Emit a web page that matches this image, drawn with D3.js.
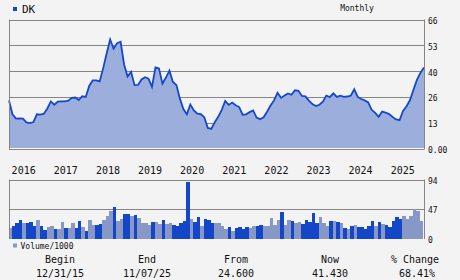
<!DOCTYPE html>
<html>
<head>
<meta charset="utf-8">
<script src="https://cdn.jsdelivr.net/npm/d3@7"></script>
<style>
  body { margin: 0; background: #f3f3f3; }
  svg { display: block; }
  text { font-family: "DejaVu Sans Mono", monospace; fill: #111; }
</style>
</head>
<body>
<div id="chart"></div>
<script>
// Monthly close, Dec 2015 .. Nov 2025
var prices = [24.6, 17.5, 15.3, 15.4, 15.3, 13.4, 13.0, 13.5, 17.5, 17.3,
  17.8, 20.5, 24.1, 22.4, 24.0, 24.1, 24.1, 24.5, 25.9, 26.1,
  24.8, 26.7, 26.4, 32.0, 34.9, 34.9, 34.3, 41.0, 48.6, 55.8,
  51.0, 53.9, 54.6, 43.0, 36.8, 39.2, 32.4, 32.5, 35.3, 36.5,
  35.7, 31.5, 41.5, 41.0, 33.2, 36.3, 39.8, 34.0, 32.5, 25.5,
  20.2, 17.5, 22.5, 19.5, 17.8, 17.6, 16.0, 10.5, 10.0, 13.4,
  16.2, 19.8, 24.3, 22.3, 23.5, 22.1, 21.2, 17.3, 17.5, 18.6,
  19.5, 15.8, 15.0, 16.0, 18.8, 22.0, 24.6, 28.5, 25.9, 27.1,
  28.2, 27.5, 29.8, 29.5, 26.9, 26.7, 24.5, 22.7, 21.7, 22.4,
  24.0, 27.1, 26.3, 28.2, 26.4, 27.0, 26.4, 26.6, 27.0, 30.3,
  26.4, 25.3, 24.6, 23.6, 19.8, 18.2, 16.2, 18.9, 18.4, 17.6,
  16.1, 14.9, 14.5, 19.2, 21.6, 24.8, 30.2, 35.2, 38.8, 41.43];

// volume / 1000 per month, and which bars are drawn dark
var volumes = [17.8, 21, 25.2, 29.9, 25.2, 25.2, 26.8, 21, 29.9, 20.5,
  14.2, 18.9, 20.5, 15.7, 15.7, 26.8, 17.3, 17.3, 25.2, 17.3,
  28.3, 18.9, 12.6, 29.9, 22, 22, 23.6, 29.9, 36.2, 44.1,
  50.4, 28.3, 31.5, 39.4, 39.4, 36.2, 37.8, 33, 25.2, 25.2,
  22, 26.8, 26.8, 23.6, 29.9, 23.6, 25.2, 22, 20.5, 25.2,
  28.3, 90.3, 31.5, 26.8, 34.6, 20.5, 31.5, 29.9, 25.2, 25.2,
  25.2, 20.5, 15.7, 18.9, 12.6, 17.3, 18.9, 15.7, 18.9, 17.3,
  20.5, 20.5, 22, 20.5, 20.5, 33, 22, 29.9, 42.5, 22,
  29.9, 28.3, 25.2, 26.8, 23.6, 29.9, 26.8, 40.9, 25.2, 34.6,
  25.2, 20.5, 28.3, 28.3, 26.8, 25.2, 17.3, 15.7, 20.5, 22,
  18.9, 18.9, 15.7, 20.5, 28.3, 20.5, 26.8, 23.6, 22, 18.9,
  28.3, 34.6, 31.5, 36.2, 31.5, 36.2, 47.2, 44.1, 28.3];
var volDark = [0,1,1,1,0,1,1,1,0,1, 1,0,0,1,0,0,1,0,0,1,
  1,0,1,0,0,1,1,0,0,0, 1,0,0,1,1,0,1,0,0,0,
  0,1,0,0,1,0,0,1,1,1, 1,1,0,1,1,0,1,1,1,0,
  0,0,0,1,0,1,1,1,1,0, 0,1,1,0,0,0,0,0,1,0,
  0,1,0,0,1,1,1,1,1,0, 0,0,1,0,1,0,1,0,1,0,
  1,1,1,1,1,0,1,0,1,1, 1,1,1,0,0,0,0,0,0];

var priceTicks = [0, 13.2, 26.4, 39.6, 52.8, 66];
var priceTickLabels = ["0.00", "13", "26", "40", "53", "66"];
var volTicks = [0, 47, 94];
var volTickLabels = ["0", "47", "94"];
var years = [2016, 2017, 2018, 2019, 2020, 2021, 2022, 2023, 2024, 2025];

var summaryHeads = ["Begin", "End", "From", "Now", "% Change"];
var summaryVals = ["12/31/15", "11/07/25", "24.600", "41.430", "68.41%"];
var summaryX = [60, 147, 236, 330, 415];

var lineColor = "#1448cc";
var areaColor = "#9cafdc";
var darkBar = "#1446c8";
var lightBar = "#8798c6";
var gridColor = "#858585";

var width = 460, height = 280;
var left = 9, right = 424;

var svg = d3.select("#chart").append("svg").attr("width", width).attr("height", height);

// scales
var xIdx = d3.scaleLinear().domain([0, prices.length - 1]).range([left, right]);
var xTime = d3.scaleTime().domain([new Date(2015, 11, 31), new Date(2025, 10, 7)]).range([left, right]);
var yPrice = d3.scaleLinear().domain([0, 66]).range([148.5, 19.5]);
var yVol = d3.scaleLinear().domain([0, 94]).range([239, 179.5]);

svg.append("defs").append("clipPath").attr("id", "volclip")
  .append("rect").attr("x", left).attr("y", 170).attr("width", right - left).attr("height", 70);

//---------------- price panel
var priceG = svg.append("g");

priceG.selectAll("line.grid").data(priceTicks.slice(1)).enter().append("line")
  .attr("class", "grid")
  .attr("x1", left).attr("x2", right)
  .attr("y1", function(d) { return Math.round(yPrice(d)) + 0.5; })
  .attr("y2", function(d) { return Math.round(yPrice(d)) + 0.5; })
  .attr("stroke", gridColor).attr("stroke-width", 1);

var area = d3.area()
  .x(function(d, i) { return xIdx(i); })
  .y0(yPrice(0))
  .y1(function(d) { return yPrice(d); });

var line = d3.line()
  .x(function(d, i) { return xIdx(i); })
  .y(function(d) { return yPrice(d); });

priceG.append("path").datum(prices).attr("d", area).attr("fill", areaColor);
priceG.append("path").datum(prices).attr("d", line)
  .attr("fill", "none").attr("stroke", lineColor).attr("stroke-width", 1.8)
  .attr("stroke-linejoin", "miter");

// baseline: white then gray
priceG.append("line").attr("x1", left).attr("x2", right).attr("y1", 148.5).attr("y2", 148.5)
  .attr("stroke", "#ffffff");
priceG.append("line").attr("x1", left).attr("x2", right).attr("y1", 149.5).attr("y2", 149.5)
  .attr("stroke", gridColor);
priceG.append("line").attr("x1", left + 0.5).attr("x2", left + 0.5).attr("y1", 19.5).attr("y2", 149.5)
  .attr("stroke", gridColor);
priceG.append("line").attr("x1", right + 0.5).attr("x2", right + 0.5).attr("y1", 19.5).attr("y2", 149.5)
  .attr("stroke", gridColor);

priceG.selectAll("text.ptick").data(priceTicks).enter().append("text")
  .attr("class", "ptick")
  .attr("x", 428)
  .attr("y", function(d) { return yPrice(d) + 4.5; })
  .style("font-size", "8px")
  .text(function(d, i) { return priceTickLabels[i]; });

//---------------- year labels
svg.selectAll("text.year").data(years).enter().append("text")
  .attr("class", "year")
  .attr("x", function(d) { return xTime(new Date(d, 0, 1)) + 2.5; })
  .attr("y", 174)
  .style("font-size", "10px")
  .text(function(d) { return d; });

//---------------- volume panel
var volG = svg.append("g");

volG.selectAll("line.vgrid").data(volTicks.slice(1)).enter().append("line")
  .attr("class", "vgrid")
  .attr("x1", left).attr("x2", right)
  .attr("y1", function(d) { return Math.round(yVol(d)) + 0.5; })
  .attr("y2", function(d) { return Math.round(yVol(d)) + 0.5; })
  .attr("stroke", gridColor);

var barW = xIdx(1) - xIdx(0);
volG.append("g").attr("clip-path", "url(#volclip)")
  .selectAll("rect").data(volumes).enter().append("rect")
  .attr("x", function(d, i) { return xIdx(i) - barW / 2 + 1; })
  .attr("width", barW)
  .attr("y", function(d) { return yVol(d); })
  .attr("height", function(d) { return yVol(0) - yVol(d); })
  .attr("fill", function(d, i) { return volDark[i] ? darkBar : lightBar; })
  .attr("shape-rendering", "crispEdges");

volG.append("line").attr("x1", left + 0.5).attr("x2", left + 0.5).attr("y1", 179.5).attr("y2", 239)
  .attr("stroke", gridColor);
volG.append("line").attr("x1", right + 0.5).attr("x2", right + 0.5).attr("y1", 179.5).attr("y2", 239)
  .attr("stroke", gridColor);

volG.selectAll("text.vtick").data(volTicks).enter().append("text")
  .attr("class", "vtick")
  .attr("x", 428)
  .attr("y", function(d) { return yVol(d) + 4; })
  .style("font-size", "8px")
  .text(function(d, i) { return volTickLabels[i]; });

//---------------- legends and titles
svg.append("rect").attr("x", 13).attr("y", 7).attr("width", 4).attr("height", 4).attr("fill", darkBar);
svg.append("text").attr("x", 22).attr("y", 12.5).style("font-size", "11px").text("DK");
svg.append("text").attr("x", 357).attr("y", 11).attr("text-anchor", "middle").style("font-size", "8px").text("Monthly");

svg.append("rect").attr("x", 13).attr("y", 243.5).attr("width", 4).attr("height", 4).attr("fill", lightBar);
svg.append("text").attr("x", 20.5).attr("y", 248.5).style("font-size", "8px").text("Volume/1000");

//---------------- summary row
svg.selectAll("text.shead").data(summaryHeads).enter().append("text")
  .attr("class", "shead")
  .attr("x", function(d, i) { return summaryX[i]; })
  .attr("y", 262.5)
  .attr("text-anchor", "middle")
  .style("font-size", "10px")
  .text(function(d) { return d; });

svg.selectAll("text.sval").data(summaryVals).enter().append("text")
  .attr("class", "sval")
  .attr("x", function(d, i) { return summaryX[i] + (i == 4 ? 2 : 0); })
  .attr("y", 276.5)
  .attr("text-anchor", "middle")
  .style("font-size", "10px")
  .text(function(d) { return d; });
</script>
</body>
</html>
